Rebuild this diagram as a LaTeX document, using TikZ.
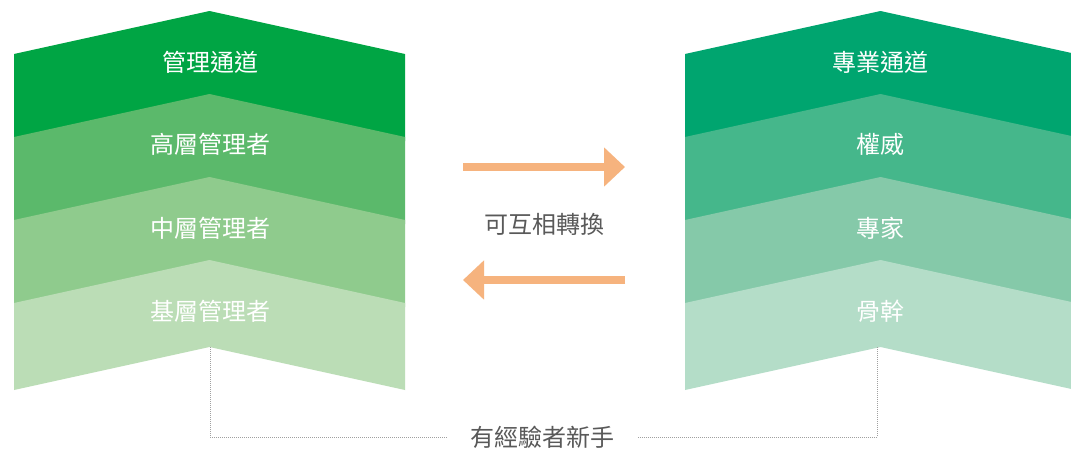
\documentclass[tikz,border=0pt]{standalone}
\usepackage{fontspec}
\newfontfamily\cjk{Noto Sans CJK TC}
\usetikzlibrary{arrows.meta}
\definecolor{lA}{HTML}{00A544}
\definecolor{lB}{HTML}{5BB96B}
\definecolor{lC}{HTML}{8FCB8D}
\definecolor{lD}{HTML}{BBDDB6}
\definecolor{rA}{HTML}{00A56F}
\definecolor{rB}{HTML}{45B78B}
\definecolor{rC}{HTML}{85C9A9}
\definecolor{rD}{HTML}{B4DDC8}
\definecolor{arrowc}{HTML}{F6B37E}
\definecolor{txtgray}{HTML}{595959}
\definecolor{dotc}{HTML}{A0A0A0}
\tikzset{
  lvl/.style={text=white, font=\cjk\fontsize{24}{26}\selectfont, inner sep=0pt},
  graytxt/.style={text=txtgray, font=\cjk\fontsize{24}{26}\selectfont, inner sep=0pt},
  swap/.style={line width=8pt, draw=arrowc, -{Triangle[length=21pt,width=38pt]}},
  dotline/.style={draw=dotc, line width=0.8pt, dash pattern=on 1pt off 1pt}
}
\newcommand\chevron[3]{% center x, apex y, colour
  \fill[#3] (#1-195.5,#2+43) -- (#1,#2) -- (#1+195.5,#2+43) -- (#1+195.5,#2+130) -- (#1,#2+87) -- (#1-195.5,#2+130) -- cycle;}
\begin{document}
\begin{tikzpicture}[x=1pt,y=-1pt]
\clip (0,0) rectangle (1071,450);
\fill[white] (0,0) rectangle (1071,450);
% left column
\chevron{209.5}{11}{lA}
\chevron{209.5}{94}{lB}
\chevron{209.5}{177}{lC}
\chevron{209.5}{260}{lD}
% right column
\chevron{880.5}{11}{rA}
\chevron{880.5}{94}{rB}
\chevron{880.5}{177}{rC}
\chevron{880.5}{260}{rD}
% labels
\node[lvl] (l1) at (210,62) {管理通道};
\node[lvl] (l2) at (210,144.5) {高層管理者};
\node[lvl] (l3) at (210,228) {中層管理者};
\node[lvl] (l4) at (210,311.5) {基層管理者};
\node[lvl] (r1) at (880.5,62) {專業通道};
\node[lvl] (r2) at (880.5,144.5) {權威};
\node[lvl] (r3) at (880.5,228) {專家};
\node[lvl] (r4) at (880.5,311.5) {骨幹};
% exchange arrows
\node[graytxt] (swaptxt) at (544,224.5) {可互相轉換};
\coordinate (ta) at (463,167);
\coordinate (tb) at (625,167);
\coordinate (ba) at (625,280);
\coordinate (bb) at (463,280);
\draw[swap] (ta) -- (tb);
\draw[swap] (ba) -- (bb);
% bottom link
\node[graytxt, inner xsep=23pt] (newbie) at (542.5,437) {有經驗者新手};
\coordinate (lnotch) at (210,347);
\coordinate (rnotch) at (877,347);
\draw[dotline] (lnotch) |- (newbie.west);
\draw[dotline] (rnotch) |- (newbie.east);
\end{tikzpicture}
\end{document}
